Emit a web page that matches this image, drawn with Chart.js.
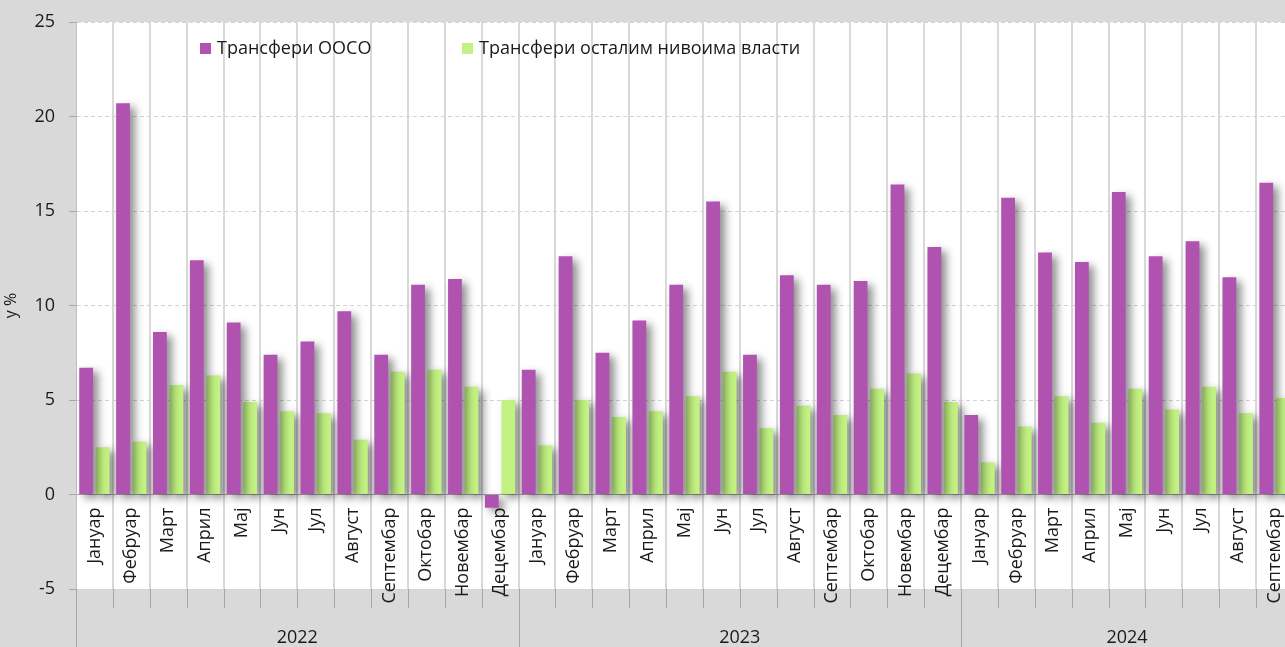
<!DOCTYPE html>
<html>
<head>
<meta charset="utf-8">
<title>Трансфери</title>
<script src="https://cdn.jsdelivr.net/npm/chart.js@4.4.1/dist/chart.umd.min.js"></script>
<style>
    html, body {
        margin: 0;
        padding: 0;
        background: #d9d9d9;
        overflow: hidden;
    }
    canvas {
        display: block;
    }
</style>
</head>
<body>
<canvas id="transfers" width="1310" height="647"></canvas>
<script>
// categories
const years = ["2022", "2023", "2024"];
const monthsPerYear = [12, 12, 9];
const monthNames = [
    "Јануар", "Фебруар", "Март", "Април", "Мај", "Јун",
    "Јул", "Август", "Септембар", "Октобар", "Новембар", "Децембар",
];

// y-o-y growth, %
const oosoValues = [
    6.7, 20.7, 8.6, 12.4, 9.1, 7.4, 8.1, 9.7, 7.4, 11.1, 11.4, -0.7,
    6.6, 12.6, 7.5, 9.2, 11.1, 15.5, 7.4, 11.6, 11.1, 11.3, 16.4, 13.1,
    4.2, 15.7, 12.8, 12.3, 16.0, 12.6, 13.4, 11.5, 16.5,
];
const otherLevelsValues = [
    2.5, 2.8, 5.8, 6.3, 4.9, 4.4, 4.3, 2.9, 6.5, 6.6, 5.7, 5.0,
    2.6, 5.0, 4.1, 4.4, 5.2, 6.5, 3.5, 4.7, 4.2, 5.6, 6.4, 4.9,
    1.7, 3.6, 5.2, 3.8, 5.6, 4.5, 5.7, 4.3, 5.1,
];

// y axis ticks
const yMin = -5;
const yMax = 25;
const yStep = 5;

const labels = [];
const yearStarts = [];
const yearCenters = [];
monthsPerYear.forEach((count) => {
    yearStarts.push(labels.length);
    yearCenters.push(labels.length + (count - 1) / 2);
    for (let m = 0; m < count; m++) {
        labels.push(monthNames[m]);
    }
});
yearStarts.push(labels.length);

const FONT = "'Open Sans', 'Noto Sans', sans-serif";
Chart.defaults.font.family = FONT;
Chart.defaults.font.size = 18;
Chart.defaults.color = "#1a1a1a";

// white plot area on the grey page
const plotBackground = {
    id: "plotBackground",
    beforeDraw(chart) {
        const { ctx, chartArea } = chart;
        ctx.save();
        ctx.fillStyle = "#ffffff";
        ctx.fillRect(chartArea.left, chartArea.top, chartArea.right - chartArea.left, chartArea.bottom - chartArea.top);
        ctx.restore();
    },
};

// soft drop shadow behind the bars
const barShadow = {
    id: "barShadow",
    beforeDatasetsDraw(chart) {
        const ctx = chart.ctx;
        ctx.save();
        ctx.shadowColor = "rgba(0, 0, 0, 0.45)";
        ctx.shadowBlur = 8;
        ctx.shadowOffsetX = 5;
        ctx.shadowOffsetY = 4;
    },
    afterDatasetsDraw(chart) {
        chart.ctx.restore();
    },
};

// month dividers and year separators under the plot
const yearBand = {
    id: "yearBand",
    afterDraw(chart) {
        const { ctx, chartArea } = chart;
        const x = chart.scales.x;
        ctx.save();
        ctx.strokeStyle = "#a6a6a6";
        ctx.lineWidth = 1;
        for (let i = 0; i <= labels.length; i++) {
            const px = Math.round(x.getPixelForValue(i - 0.5)) + 0.5;
            const end = yearStarts.includes(i) ? chart.height : chartArea.bottom + 19;
            ctx.beginPath();
            ctx.moveTo(px, chartArea.bottom);
            ctx.lineTo(px, end);
            ctx.stroke();
        }
        ctx.restore();
    },
};

// legend sits inside the plot, two items far apart
const legendOffsets = [124, 386];
const insideLegend = {
    id: "insideLegend",
    afterDraw(chart) {
        const { ctx, chartArea } = chart;
        const baseline = chartArea.top + 32;
        ctx.save();
        ctx.font = "18px " + FONT;
        ctx.textBaseline = "alphabetic";
        chart.data.datasets.forEach((ds, i) => {
            const left = chartArea.left + legendOffsets[i];
            ctx.fillStyle = ds.backgroundColor;
            ctx.fillRect(left, baseline - 11, 11, 11);
            ctx.fillStyle = "#1a1a1a";
            ctx.fillText(ds.label, left + 17, baseline);
        });
        ctx.restore();
    },
};

const ctx = document.getElementById("transfers").getContext("2d");
new Chart(ctx, {
    type: "bar",
    data: {
        labels: labels,
        datasets: [
            {
                label: "Трансфери ООСО",
                data: oosoValues,
                backgroundColor: "#b052b0",
                borderWidth: 0,
            },
            {
                label: "Трансфери осталим нивоима власти",
                data: otherLevelsValues,
                backgroundColor: "#c2f282",
                borderWidth: 0,
            },
        ],
    },
    options: {
        responsive: false,
        animation: false,
        categoryPercentage: 0.9,
        barPercentage: 0.83,
        layout: {
            padding: { top: 22, right: 17, bottom: 0, left: 0 },
        },
        plugins: {
            legend: { display: false },
            tooltip: { enabled: false },
        },
        scales: {
            x: {
                type: "category",
                position: { y: 0 },
                grid: {
                    color: "#d9d9d9",
                    lineWidth: 2,
                    offset: true,
                    drawTicks: false,
                },
                border: { color: "#a6a6a6", width: 1 },
                ticks: {
                    autoSkip: false,
                    minRotation: 90,
                    maxRotation: 90,
                    padding: 13,
                    font: { size: 18 },
                },
            },
            year: {
                type: "linear",
                position: "bottom",
                offset: false,
                min: -0.5,
                max: labels.length - 0.5,
                grid: { display: false, drawTicks: false },
                border: { display: false },
                afterBuildTicks(scale) {
                    scale.ticks = yearCenters.map((v) => ({ value: v }));
                },
                afterFit(scale) {
                    scale.height = 58;
                },
                ticks: {
                    autoSkip: false,
                    maxRotation: 0,
                    padding: 38,
                    callback: (value, index) => years[index],
                },
            },
            y: {
                min: yMin,
                max: yMax,
                afterFit(scale) {
                    scale.width = 76;
                    scale.paddingTop = 0;
                    scale.paddingBottom = 0;
                },
                ticks: {
                    stepSize: yStep,
                    padding: 14,
                },
                grid: {
                    color: "#d4d4d4",
                    tickColor: "#a6a6a6",
                    tickLength: 7,
                },
                border: { color: "#bfbfbf", width: 1, dash: [4, 3] },
                title: {
                    display: true,
                    text: "у %",
                    font: { size: 16 },
                    padding: { top: 2, bottom: 0 },
                },
            },
        },
    },
    plugins: [plotBackground, barShadow, yearBand, insideLegend],
});
</script>
</body>
</html>
